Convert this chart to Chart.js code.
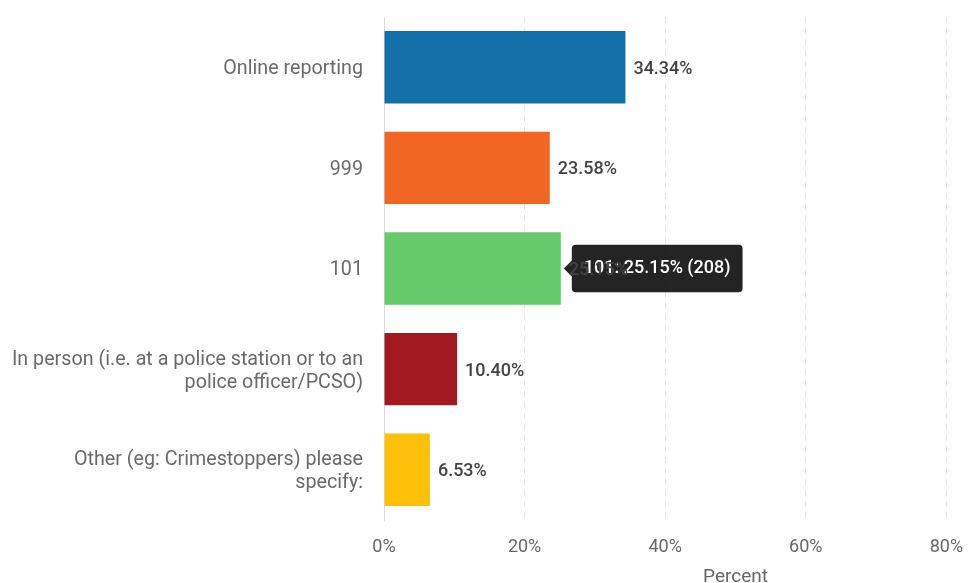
<!DOCTYPE html>
<html>
<head>
<meta charset="utf-8">
<script src="https://cdn.jsdelivr.net/npm/chart.js@4.4.1/dist/chart.umd.min.js"></script>
<style>
  html, body { margin: 0; padding: 0; background: #fff; overflow: hidden; }
  #wrap { width: 1110px; height: 589px; }
</style>
</head>
<body>
<div id="wrap"><canvas id="chart"></canvas></div>
<script>
// Data
const categories = [
    ['Online reporting'],
    ['999'],
    ['101'],
    ['In person (i.e. at a police station or to an', 'police officer/PCSO)'],
    ['Other (eg: Crimestoppers) please', 'specify:']
];
const shortNames = ['Online reporting', '999', '101', 'In person', 'Other'];
const percents = [34.34, 23.58, 25.15, 10.40, 6.53];
const counts = [284, 195, 208, 86, 54];
const barColors = ['#1470a8', '#f26624', '#66c96a', '#a11a1f', '#fec10a'];
const xTicks = [0, 20, 40, 60, 80, 100];

const FONT = 'Roboto, "Noto Sans", sans-serif';

// value labels at the end of each bar (drawn last, over the tooltip)
const barLabels = {
    id: 'barLabels',
    afterDraw(chart) {
        const ctx = chart.ctx;
        const meta = chart.getDatasetMeta(0);
        ctx.save();
        ctx.font = '500 18px ' + FONT;
        ctx.fillStyle = '#444';
        ctx.textAlign = 'left';
        ctx.textBaseline = 'middle';
        meta.data.forEach((bar, i) => {
            ctx.fillText(percents[i].toFixed(2) + '%', bar.x + 8, bar.y + 2);
        });
        ctx.restore();
    }
};

const chart = new Chart(document.getElementById('chart'), {
    type: 'bar',
    data: {
        labels: categories,
        datasets: [{
            data: percents,
            backgroundColor: barColors,
            borderWidth: 0
        }]
    },
    options: {
        indexAxis: 'y',
        responsive: true,
        maintainAspectRatio: false,
        animation: false,
        events: [],
        layout: { padding: { top: 17, right: 23, bottom: 0, left: 0 } },
        scales: {
            x: {
                min: 0,
                max: 100,
                afterBuildTicks: s => { s.ticks = xTicks.map(v => ({ value: v })); },
                afterFit: s => {
                    s.height = 69;
                    s.paddingLeft = 0;
                    s.paddingRight = 0;
                },
                grid: { color: '#e6e6e6', drawTicks: false, tickBorderDash: [6, 5] },
                border: { display: false, dash: [6, 5] },
                ticks: {
                    padding: 17,
                    color: '#666',
                    font: { family: FONT, size: 18 },
                    callback: v => v + '%'
                },
                title: {
                    display: true,
                    text: 'Percent',
                    color: '#666',
                    font: { family: FONT, size: 19 },
                    padding: { top: 0, bottom: 0 }
                }
            },
            y: {
                afterFit: s => {
                    s.width = 384;
                    s.paddingTop = 0;
                    s.paddingBottom = 0;
                },
                grid: { display: false, drawTicks: false },
                border: { display: true, color: '#dcdcdc', width: 1 },
                ticks: {
                    padding: 21,
                    labelOffset: 2,
                    color: '#6a6a6a',
                    font: { family: FONT, size: 19.7, lineHeight: 1.17 }
                }
            }
        },
        plugins: {
            legend: { display: false },
            tooltip: {
                enabled: true,
                xAlign: 'left',
                yAlign: 'center',
                backgroundColor: 'rgba(0,0,0,0.86)',
                bodyColor: '#fff',
                bodyFont: { family: FONT, size: 18, weight: '500' },
                padding: { left: 12, right: 12, top: 13, bottom: 13 },
                cornerRadius: 4,
                caretSize: 8,
                caretPadding: 3,
                displayColors: false,
                callbacks: {
                    title: () => [],
                    label: c => shortNames[c.dataIndex] + ': ' + percents[c.dataIndex].toFixed(2) + '% (' + counts[c.dataIndex] + ')'
                }
            }
        }
    },
    plugins: [barLabels]
});

// show the tooltip on the "101" bar, as in the picture
chart.tooltip.setActiveElements([{ datasetIndex: 0, index: 2 }], { x: 0, y: 0 });
chart.update();
</script>
</body>
</html>
